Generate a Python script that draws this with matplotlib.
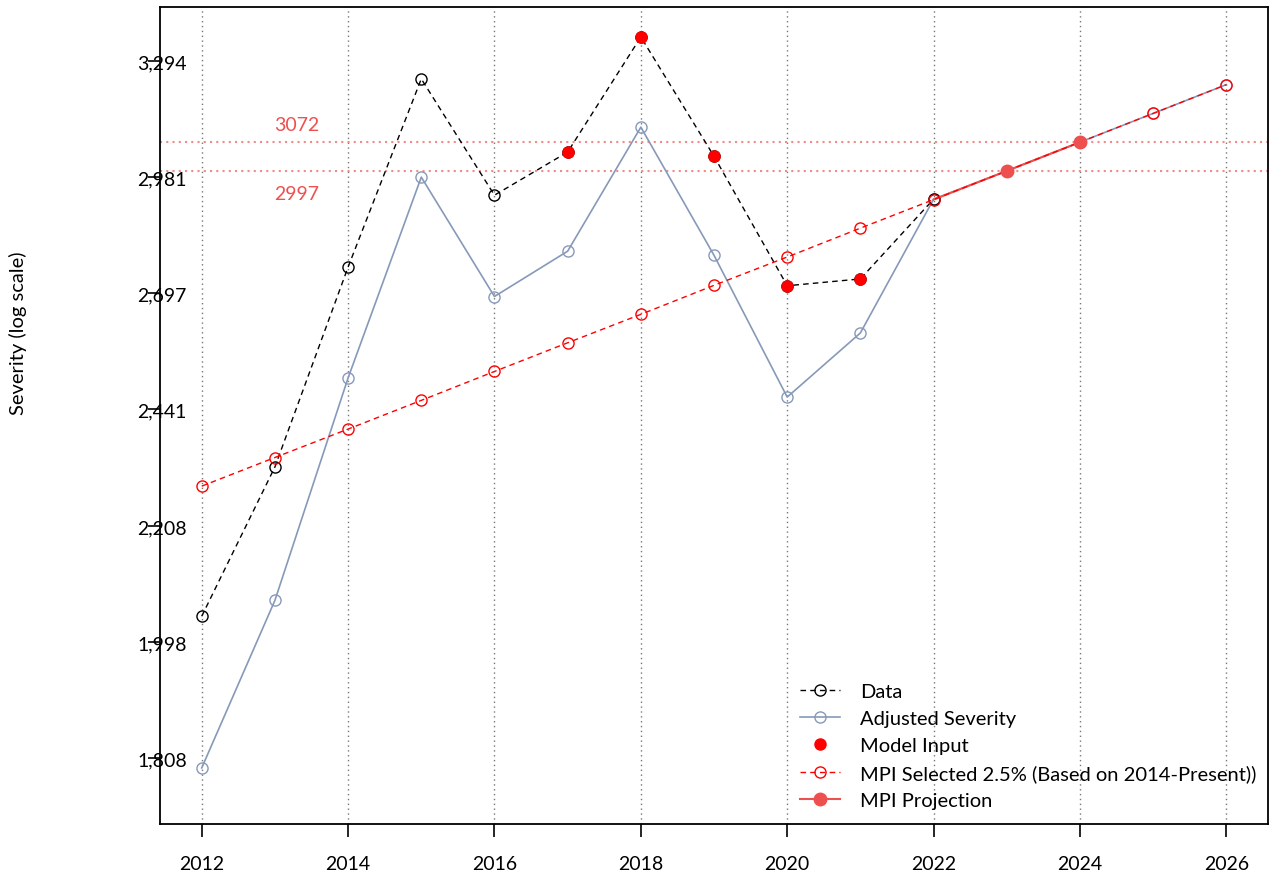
import matplotlib
matplotlib.use('Agg')
import matplotlib.pyplot as plt
from matplotlib.ticker import FixedLocator, NullLocator, FixedFormatter

plt.rcParams['font.family'] = ['Lato', 'DejaVu Sans']

# values
years = [2012, 2013, 2014, 2015, 2016, 2017, 2018, 2019, 2020, 2021, 2022]
data_sev = [2043, 2323, 2759, 3244, 2935, 3046, 3363, 3035, 2715, 2731, 2925]

adj_years = [2012, 2013, 2014, 2015, 2016, 2017, 2018, 2019, 2020, 2021, 2022,
             2023, 2024, 2025, 2026]
adj_sev = [1793, 2071, 2508, 2981, 2690, 2797, 3112, 2787, 2467, 2607, 2925,
           2997, 3072, 3149, 3228]

model_years = [2017, 2018, 2019, 2020, 2021]
model_sev = [3046, 3363, 3035, 2715, 2731]

mpi_years = [2012, 2013, 2014, 2015, 2016, 2017, 2018, 2019, 2020, 2021, 2022,
             2023, 2024, 2025, 2026]
mpi_sev = [2285, 2342, 2400, 2460, 2522, 2585, 2649, 2716, 2783, 2853, 2924,
           2997, 3072, 3149, 3228]

proj_years = [2022, 2023, 2024]
proj_sev = [2924, 2997, 3072]

ref_levels = [3072, 2997]
ytick_vals = [1808, 1998, 2208, 2441, 2697, 2981, 3294]
ytick_labels = ['1,808', '1,998', '2,208', '2,441', '2,697', '2,981', '3,294']
xtick_vals = [2012, 2014, 2016, 2018, 2020, 2022, 2024, 2026]

blue = '#8799B9'
proj_red = '#EE5050'

fig = plt.figure(figsize=(12.81, 8.78), dpi=100)
ax = fig.add_axes([0.1249, 0.0604, 0.865, 0.9305])

for x in xtick_vals:
    ax.axvline(x, color='#777777', linestyle=(0, (1, 2.5)), linewidth=1.0, zorder=1)
for lv in ref_levels:
    ax.axhline(lv, color='#F28A8A', linestyle=(0, (1, 2)), linewidth=1.5, zorder=1)

ax.plot(years, data_sev, color='black', linestyle=(0, (4, 3)), linewidth=1.0,
        marker='o', markersize=8, markerfacecolor='none', markeredgecolor='black',
        markeredgewidth=1.0, label='Data', zorder=4)
ax.plot(adj_years, adj_sev, color=blue, linewidth=1.2, marker='o', markersize=8,
        markerfacecolor='none', markeredgecolor=blue, markeredgewidth=1.0,
        label='Adjusted Severity', zorder=3)
ax.plot(model_years, model_sev, linestyle='none', marker='o', markersize=8,
        color='#FF0000', label='Model Input', zorder=6)
ax.plot(proj_years, proj_sev, color=proj_red, linewidth=1.5, zorder=4.5)
ax.plot(mpi_years, mpi_sev, color='#FF0000', linestyle=(0, (4, 3)), linewidth=1.0,
        marker='o', markersize=8, markerfacecolor='none', markeredgecolor='#FF0000',
        markeredgewidth=1.0, label='MPI Selected 2.5% (Based on 2014-Present))', zorder=5)
ax.plot(proj_years[1:], proj_sev[1:], linestyle='none', marker='o', markersize=9,
        color=proj_red, zorder=6)
# legend proxy for projection
ax.plot([], [], color=proj_red, linewidth=1.5, marker='o', markersize=9,
        label='MPI Projection')

ax.text(2013.3, 3072 * 1.008, '3072', color=proj_red, fontsize=14, ha='center', va='bottom')
ax.text(2013.3, 2997 * 0.988, '2997', color=proj_red, fontsize=14, ha='center', va='top')

ax.set_yscale('log')
ax.set_ylim(1708.6, 3451)
ax.set_xlim(2011.43, 2026.57)
ax.yaxis.set_major_locator(FixedLocator(ytick_vals))
ax.yaxis.set_major_formatter(FixedFormatter(ytick_labels))
ax.yaxis.set_minor_locator(NullLocator())
ax.set_xticks(xtick_vals)
ax.set_xticklabels([str(x) for x in xtick_vals])

ax.tick_params(axis='x', length=9, width=1.2, pad=13, labelsize=14)
ax.tick_params(axis='y', length=9, width=1.2, pad=-10.5, labelsize=14)
for lab in ax.get_yticklabels():
    lab.set_horizontalalignment('center')

for sp in ax.spines.values():
    sp.set_linewidth(1.3)

fig.text(0.014, 0.62, 'Severity (log scale)', rotation=90, fontsize=14.5,
         ha='center', va='center')

leg = ax.legend(loc='lower left', bbox_to_anchor=(0.5776, 0.018), frameon=False,
                fontsize=14.5, handlelength=2.0, handletextpad=1.0,
                labelspacing=0.5, borderpad=0, borderaxespad=0)

fig.savefig('out.png', dpi=100)
